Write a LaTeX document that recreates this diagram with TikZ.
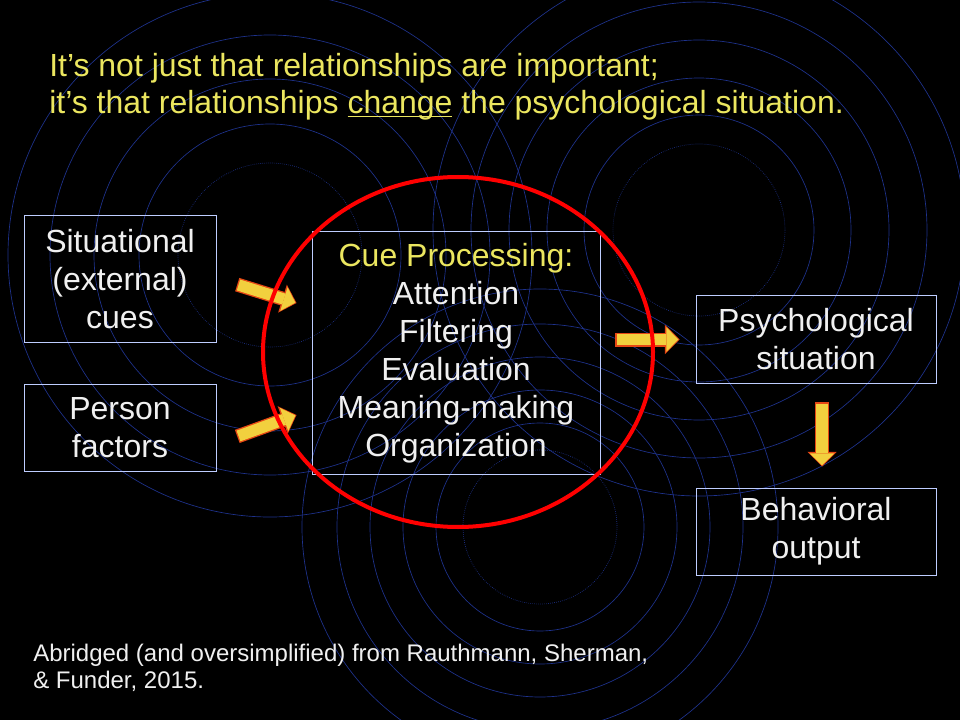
\documentclass[tikz,border=0pt]{standalone}
\usepackage{fontspec}
\setmainfont{Liberation Sans}
\usepackage{tikz}
\usetikzlibrary{calc,arrows.meta}
\definecolor{ringblue}{RGB}{30,50,140}
\definecolor{slideyellow}{RGB}{235,230,95}
\definecolor{boxline}{RGB}{190,205,255}
\definecolor{arrowyellow}{RGB}{242,208,62}
\definecolor{arrowrim}{RGB}{230,70,20}
\tikzset{>=latex}
\tikzset{ring/.style={draw=ringblue, line width=0.5pt},
  box/.style={draw=boxline, line width=0.75pt, text=white!94!black, align=center,
    font=\fontsize{24}{28.5}\selectfont},
  rimline/.style={draw=arrowrim, line width=10.5pt, shorten <=-1pt,
    -{Triangle[width=22pt, length=11pt, line width=0pt]}},
  fillline/.style={draw=arrowyellow, line width=8.5pt,
    -{Triangle[width=18.5pt, length=9pt, line width=0pt, fill=arrowyellow]}}}
\newcommand{\fatarrow}[2]{\draw[rimline] (#1) -- (#2); \draw[fillline] (#1) -- ($(#2)!0.9pt!(#1)$);}
\newcommand{\ulword}[1]{{\setbox0\hbox{#1}\rlap{\rule[-2.6pt]{\wd0}{1.4pt}}\box0}}

\begin{document}
\begin{tikzpicture}[x=0.75pt, y=-0.75pt]
\fill[black] (0,0) rectangle (960,720);
\useasboundingbox (0,0) rectangle (960,720);
% ripples in the background
\begin{scope}
\clip (0,0) rectangle (960,720);
\draw[ring, densely dotted] (270,255) circle [radius=92];
\foreach \r in {131,176,220,262} \draw[ring] (270,255) circle [radius=\r];
\draw[ring, densely dotted] (699,230) circle [radius=86];
\foreach \r in {115,152,190,228,266} \draw[ring] (699,230) circle [radius=\r];
\draw[ring, densely dotted] (540,527) circle [radius=77];
\foreach \r in {104,137,170,203,238} \draw[ring] (540,527) circle [radius=\r];
\end{scope}

\node[anchor=base west, inner sep=0pt, text=slideyellow, font=\fontsize{24}{28}\selectfont] (title1) at (49,77) {It’s not just that relationships are important;};
\node[anchor=base west, inner sep=0pt, text=slideyellow, font=\fontsize{24}{28}\selectfont] (title2) at (49,114) {it’s that relationships \ulword{change} the psychological situation.};

\node[box, minimum width=144pt, minimum height=94.5pt] (sit) at (120,279) {Situational\\(external)\\cues};
\node[box, minimum width=144pt, minimum height=65.25pt] (pers) at (120,427.5) {Person\\factors};
\node[box, minimum width=216pt, minimum height=181.5pt] (cue) at (456,353) {\textcolor{slideyellow}{Cue Processing:}\\Attention\\Filtering\\Evaluation\\Meaning-making\\Organization};
\node[box, minimum width=180pt, minimum height=65.25pt] (psych) at (816,339.5) {Psychological\\situation};
\node[box, minimum width=180pt, minimum height=65.25pt] (behav) at (816,531.5) {Behavioral\\output};

\coordinate (a1) at ($(sit.east)+(22,6)$);
\coordinate (b1) at ($(cue.west)+(-15,-50)$);
\coordinate (a2) at ($(pers.east)+(22,8.5)$);
\coordinate (b2) at ($(cue.west)+(-15,62)$);
\coordinate (a3) at ($(psych.west)+(-79,0)$);
\coordinate (b3) at ($(psych.west)+(-16,0)$);
\coordinate (a4) at ($(psych.south)+(6,20)$);
\coordinate (b4) at ($(behav.north)+(6,-21)$);
\fatarrow{a1}{b1}
\fatarrow{a2}{b2}
\fatarrow{a3}{b3}
\fatarrow{a4}{b4}

\draw[red, line width=3pt] (458,352) ellipse [x radius=195, y radius=175];

\node[anchor=base west, align=left, inner sep=0pt, text=white!94!black, font=\fontsize{18}{20.25}\selectfont] (cite) at (33,688) {Abridged (and oversimplified) from Rauthmann, Sherman,\\\& Funder, 2015.};
\end{tikzpicture}
\end{document}
